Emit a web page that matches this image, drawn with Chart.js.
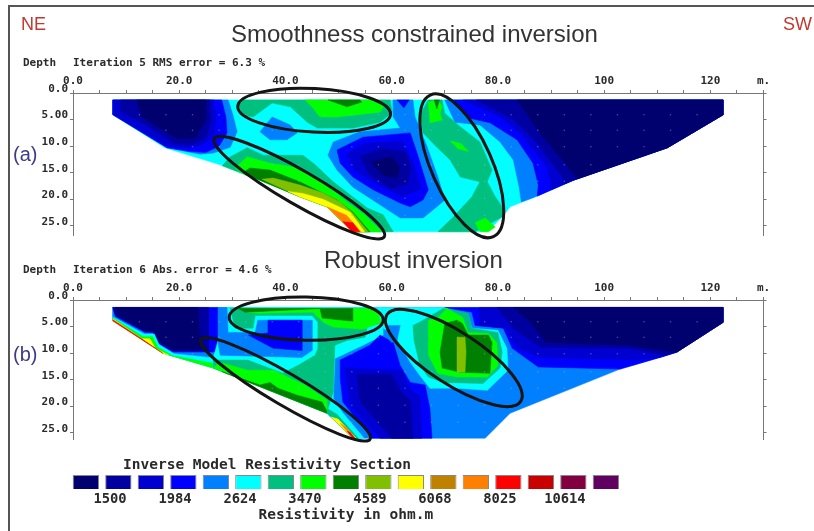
<!DOCTYPE html>
<html>
<head>
<meta charset="utf-8">
<script src="https://cdn.jsdelivr.net/npm/chart.js@4"></script>
<style>
html,body{margin:0;padding:0;background:#fff;}
#page{position:relative;width:814px;height:531px;overflow:hidden;background:#fff;}
canvas{position:absolute;left:0;filter:blur(0.45px);}
.t{position:absolute;white-space:pre;}
.big{font-family:"Liberation Sans",Arial,sans-serif;color:#333;font-size:24px;}
.dir{font-family:"Liberation Sans",Arial,sans-serif;color:#c0392f;font-size:18px;}
.pan{font-family:"Liberation Sans",Arial,sans-serif;color:#3c3c86;font-size:20px;}
.mono{font-family:"DejaVu Sans Mono",monospace;font-weight:bold;color:#2a2a2a;font-size:11px;}
.frameTop{position:absolute;left:8px;top:5px;right:0;height:2px;background:#555;}
.frameLeft{position:absolute;left:8px;top:5px;bottom:0;width:2px;background:#555;}
</style>
</head>
<body>
<div id="page">
  <canvas id="chartA" width="814" height="250" style="top:0"></canvas>
  <canvas id="chartB" width="814" height="200" style="top:250px"></canvas>
  <canvas id="chartKey" width="814" height="76" style="top:455px"></canvas>
  <div class="frameTop"></div><div class="frameLeft"></div>
  <div class="t dir" style="left:21px;top:14px">NE</div>
  <div class="t dir" style="left:783px;top:14px">SW</div>
  <div class="t big" style="left:231px;top:20px">Smoothness constrained inversion</div>
  <div class="t big" style="left:324px;top:246px">Robust inversion</div>
  <div class="t pan" style="left:13px;top:143px">(a)</div>
  <div class="t pan" style="left:13px;top:343px">(b)</div>
  <div class="t mono" style="left:23px;top:56px">Depth</div>
  <div class="t mono" style="left:73px;top:56px">Iteration 5 RMS error = 6.3 %</div>
  <div class="t mono" style="left:23px;top:263px">Depth</div>
  <div class="t mono" style="left:73px;top:263px">Iteration 6 Abs. error = 4.6 %</div>
  <div class="t mono" style="left:123px;top:456px;font-size:14.5px">Inverse Model Resistivity Section</div>
</div>
<script>
// resistivity colour key
var keyColors = ['#00006e','#0000a0','#0000d0','#0000ff','#0080ff','#00ffff','#00c080','#00ff00','#008000','#80c000','#ffff00','#c08000','#ff8000','#ff0000','#c80000','#800040','#600060'];
var keyValues = [1500,1984,2624,3470,4589,6068,8025,10614];

var xTicks = [0,20,40,60,80,100,120];
var depthTicks = ['0.0','5.00','10.0','15.0','20.0','25.0'];

// faint model block centres: columns, then rows as [depth, first m, last m]
var dotColumns = [12.5,17.5,22.5,27.5,32.5,37.5,42.5,47.5,52.5,57.5,62.5,67.5,72.5,77.5,82.5,87.5,92.5,97.5,102.5,107.5,112.5,117.5];
var dotRows = [[4.1,12.5,117.5],[7,17.5,112.5],[10.1,22.5,107.5],[13.5,32.5,97.5],[16.6,37.5,92.5],[19.8,47.5,82.5],[23,52.5,77.5]];

// section (a) contour areas, [distance m, depth m]
var a_outline = [[7.5,1.3],[7.5,4.1],[17.3,10.3],[27.7,13.5],[35.2,16.4],[42.7,19.5],[47.8,21.4],[52.7,26.1],[75.1,26.1],[78,26.1],[81,23.1],[82.3,21.4],[86.6,19.7],[94.2,16.4],[111.9,10.3],[122.4,4.1],[122.4,1.3]];
var a_left4 = [[7.5,1.3],[29.2,1.3],[30.1,4.1],[30.9,7.3],[29.6,10.2],[26.4,11.3],[23.9,11.5],[17.7,10.3],[7.5,4.1]];
var a_left3 = [[7.5,1.3],[28,1.3],[28.8,4.5],[29,7.5],[27.5,10],[25,11.2],[22,11],[17.7,10.3],[7.5,4.1]];
var a_left2 = [[7.5,1.3],[26.5,1.3],[27,5],[26.5,8],[24,10],[21,10.3],[17.7,10],[7.5,4]];
var a_left1 = [[9,1.3],[25.8,1.3],[26,5],[25,8.5],[22,9.8],[19,9.5],[13,5.5],[9,3.5]];
var a_left0 = [[12,1.3],[25,1.3],[25,5],[23,8.5],[19.5,8.5],[13,4.5]];
var a_hole4 = [[60.3,1.3],[60.3,4.5],[61.6,6.6],[54,7.3],[49,9.2],[48,11.7],[49.7,14.5],[52.7,17.7],[57.3,20.7],[61.6,23.5],[65.9,23.5],[68.5,21.4],[70,20.1],[68.7,15.8],[66.7,10.2],[64.4,4.5],[64,1.3]];
var a_tip3 = [[61,1.3],[63.3,1.3],[62.3,2.8]];
var a_hole3 = [[49.7,10.7],[54.6,8.3],[63.5,7.5],[65,12],[66.9,18.2],[65.9,20.1],[63.5,21.4],[61.6,20.7],[56.5,18.2],[52.7,15.8],[50.3,13.2]];
var a_hole2 = [[51.5,11.5],[55,9.5],[62,9],[64,13],[65.5,18],[62,19.5],[57,17],[53,14.5]];
var a_hole1 = [[54,12],[58,10.5],[62.5,11],[63.5,14],[63,17],[60,18],[56,15.5]];
var a_hole0 = [[56,13],[60,12],[61.5,14],[61,16],[58.5,15.5]];
var a_right4 = [[70,1.3],[71.9,5.5],[76.6,6],[80.4,9.2],[82.9,12.6],[84,17.7],[84.4,20.5],[86.6,19.7],[94.2,16.4],[111.9,10.3],[122.4,4.1],[122.4,1.3]];
var a_right3 = [[71,1.3],[74.4,4.7],[78.5,5.6],[83.6,8.8],[86.6,13.2],[87.6,17.3],[87.4,19.4],[94.2,16.4],[111.9,10.3],[122.4,4.1],[122.4,1.3]];
var a_right2 = [[73.5,1.3],[80.4,4.5],[84.2,7.5],[89.3,13.9],[90.2,18.1],[94.2,16.4],[111.9,10.3],[122.4,4.1],[122.4,1.3]];
var a_right1 = [[76,1.3],[83,5],[87,9],[92,15.5],[92.5,17.1],[94.2,16.4],[111.9,10.3],[122.4,4.1],[122.4,1.3]];
var a_right0 = [[83.6,1.3],[87.9,7.5],[95,16.1],[111.9,10.3],[122.4,4.1],[122.4,1.3]];
var a_patch4 = [[35.2,7.3],[37.5,4.5],[40.9,6],[42.2,7.5],[40.3,8.8],[37.1,8.8]];
var a_top6 = [[31.1,1.9],[32,1.3],[59.7,1.3],[60.1,3.6],[57.8,5.5],[52.7,6.6],[46,6.6],[44.1,5.5],[40.9,2.6],[37.5,1.9],[33.9,4.5],[31.8,4.1]];
var a_top7 = [[43.7,1.3],[45,2.6],[46.5,4.5],[49.7,4.5],[57.8,3.6],[58.6,2.4],[57.3,1.3]];
var a_top8 = [[48,1.3],[51.6,2.6],[54.4,1.7],[54,1.3]];
var a_low6 = [[28.1,13.7],[29.6,12],[32.8,10.3],[35.8,11.7],[43.3,11.7],[45.6,13.5],[49,16.7],[55.4,21.6],[58.4,22.9],[60.3,26.1],[52.7,26.1],[47.8,21.4],[42.7,19.5],[35.2,16.4]];
var a_low7 = [[30.5,14.1],[32.8,12],[37.1,13.2],[42.7,14.1],[47.1,16.7],[51.6,20.5],[54.6,22.6],[58.2,26.1],[52.7,26.1],[47.8,21.4],[42.7,19.5],[35.2,16.4],[32.4,15.4]];
var a_low8 = [[32,15],[33.3,14.1],[37.1,14.5],[42.7,16.7],[49.7,20.1],[52.7,22.4],[55.9,26.1],[52.7,26.1],[47.8,21.4],[42.7,19.5],[35.2,16.4]];
var a_low9 = [[35.6,16.2],[37.7,16],[42.7,17.3],[47.1,18.8],[50.3,20.5],[52.7,22.6],[55.6,26.1],[52.7,26.1],[47.8,21.4],[42.7,19.5]];
var a_low10 = [[40.5,18.5],[43.3,18.9],[47.1,20],[52.2,22.4],[54.9,26.1],[52.7,26.1],[47.8,21.4],[42.7,19.5]];
var a_low12 = [[47.8,21.4],[51.5,23],[54.2,26.1],[52.7,26.1]];
var a_low13 = [[50.8,24.2],[52.7,24.4],[54,26.1],[52.5,26.1]];
var a_east6 = [[66.9,1.3],[65.3,4.1],[65.9,7.5],[68.5,10.2],[71,12.6],[72.9,15.8],[76.6,16.7],[75.1,19.5],[71.6,23.3],[68.7,26.1],[75.7,26.1],[80.8,23.3],[81.2,22],[79.5,19.5],[78,16.7],[78.9,14.5],[76.6,9.2],[72.5,6],[70,3.8],[69.5,1.3]];
var a_east7a = [[66.9,1.7],[67.2,5.6],[69.5,5.1],[69.1,3.8],[69.5,2.6],[68.7,1.3]];
var a_east8 = [[68,1.3],[68.5,3],[69,1.3]];
var a_east7b = [[71,9],[73,9.5],[74.5,11],[72.5,10.5]];
var a_east7c = [[75.7,24.4],[77.6,23.5],[79.5,25.2],[78.2,26.1],[76.6,26]];

// section (b) contour areas
var b_outline = [[7.5,1.4],[7.5,3.8],[16.9,10],[26.4,12.8],[47.8,21.3],[52.7,26],[77.6,26],[82.3,21.3],[103,13],[110.5,10.8],[113.7,9.8],[122.4,4.2],[122.4,1.4]];
var b_west3 = [[7.5,1.4],[27.3,1.4],[27.3,9.8],[18.8,9.8],[16,8.1],[15.1,6.1],[13.6,6.1],[8,3.1]];
var b_west1 = [[7.5,1.4],[25.5,1.4],[25.5,9.6],[18.8,9.6],[16,8],[15.1,6],[13.6,6],[8,3]];
var b_west0 = [[8,1.4],[23.5,1.4],[24,9.4],[19,9.4],[16.3,7.8],[15.3,5.8],[13.6,5.8],[8.5,2.9]];
var b_strip5 = [[7.5,3.2],[13.4,6.4],[15.3,6.4],[16.2,8.4],[19,10.1],[27.5,11],[26.4,12.8],[16.9,10],[7.5,3.8]];
var b_strip7 = [[7.5,3.4],[13.2,6.9],[15,6.9],[16,8.9],[18.8,10.5],[26.8,12],[26.4,12.8],[16.9,10],[7.5,3.8]];
var b_strip10 = [[7.5,3.55],[13,7.3],[14.5,7.3],[15.5,9.1],[18,10.35],[16.9,10],[7.5,3.8]];
var b_strip13 = [[7.5,3.7],[13,7.35],[16.9,10],[7.5,3.95]];
var b_mid5 = [[29,1.4],[58.2,1.4],[58.4,6.6],[54.6,8.5],[49.3,11],[49,18.5],[50.7,21.1],[54.8,26],[52.7,26],[47.8,21.3],[26.4,12.8],[26.4,10.9]];
var b_ring4 = [[27.3,1.4],[29,1.4],[29.2,6.1],[34.3,6.1],[34.8,3.8],[45,3.8],[45,9.5],[43.1,10.8],[27.7,10.4],[27.3,8]];
var b_square3 = [[36.7,3.8],[43.1,3.8],[43.1,9.5],[37.7,9.1],[33,6.6],[36.7,6.2]];
var b_mid6 = [[29.6,1.6],[58.2,1.6],[58.4,4.2],[55.4,5.1],[55,7],[51.6,7.6],[49.3,8.5],[49,17.3],[48,20.4],[46.9,19.8],[43.3,17.3],[39.5,13.8],[42.7,12.1],[45.6,10.4],[46.1,9.1],[46.1,4.2],[45,2.9],[34.3,2.9],[33.9,5.3],[30.5,5.3]];
var b_band6 = [[26.4,12.8],[26.4,11.3],[32.9,11.3],[39.5,13.8],[43.3,17.3],[46.9,19.8],[48,20.4],[47.8,21.3]];
var b_band7 = [[27.3,11.9],[28.2,11.9],[32.9,13.2],[37.7,13.2],[40.9,14.7],[43.7,16],[47.8,18.8],[47.8,21.3],[26.4,12.8]];
var b_band8 = [[28.1,13.5],[35.2,16],[37.1,15.5],[38.6,16.6],[42.2,17.9],[46.9,19.2],[47.8,20.9],[47.8,21.3]];
var b_top7 = [[31.1,1.6],[32.8,2.3],[34.7,2.5],[45.2,2.3],[47.1,4.2],[49,5.1],[54.6,5.5],[58.2,4.2],[58.2,2.3],[56.3,1.6]];
var b_top8 = [[31.1,1.6],[32.4,2.3],[46.5,1.6],[46.9,3.4],[52.7,4],[52.7,1.6]];
var b_tip6 = [[48,20.5],[49.7,21.5],[53.7,26],[52.7,26],[47.8,21.3]];
var b_tip10 = [[48.6,22],[49.9,22.4],[53.3,26],[52.7,26]];
var b_tip12 = [[50.3,23.2],[51.6,24.1],[53,26],[52.7,26]];
var b_tip13 = [[51.6,24.7],[52.2,24.9],[53.1,26],[52.7,26]];
var b_hole3 = [[50.3,11.3],[55.9,8.5],[57.8,6.6],[60.3,8],[61.6,12.3],[63.5,15.5],[66.3,16],[67.2,20.4],[67.6,26],[56.3,26],[50.8,19.2],[50.3,14.7]];
var b_hole2 = [[51.2,12.8],[62,13.2],[63.5,17],[65.3,18],[65.7,26],[57.8,26],[52.2,19.8]];
var b_hole1 = [[53.5,14],[60,14],[61.5,17],[63.5,19],[64,26],[60,26],[54,19]];
var b_east3 = [[70,1.4],[75.1,2.3],[75.7,4.8],[81,5.3],[82.7,9.1],[87.6,12.6],[103,13],[110.5,10.8],[113.7,9.8],[122.4,4.2],[122.4,1.4]];
var b_east2 = [[76.6,1.4],[76.6,4.8],[81.4,5.3],[83.6,9.1],[87.9,10.8],[105.5,11.3],[110.5,10.8],[113.7,9.8],[122.4,4.2],[122.4,1.4]];
var b_east1 = [[79.8,1.4],[82.9,5.3],[87.9,8.9],[104.9,9.1],[111.5,10.4],[113.7,9.8],[122.4,4.2],[122.4,1.4]];
var b_east0 = [[82.9,1.4],[86,4],[89,8],[104,8.5],[113.7,9.8],[122.4,4.2],[122.4,1.4]];
var b_blob5 = [[57.3,1.4],[69.7,1.4],[74.4,2.9],[75.1,5.3],[80,5.7],[81.7,9.1],[81.9,13.2],[78,17],[72.3,16.6],[67.2,16.6],[65.3,14.2],[63.5,11.7],[61.6,8.5],[60.6,6.6],[58.4,5.3]];
var b_blobPatch = [[59.3,4.8],[61.6,4.8],[61,7.6],[60,8],[58.8,6.6]];
var b_blob6 = [[64,4.8],[65.9,3.8],[69.7,1.6],[74.4,2.5],[75.1,5.3],[80,6.1],[80.8,9.8],[80.4,12.8],[77.2,15.7],[69.7,15.5],[66.9,14.5],[65.3,12.3],[64.2,7.6]];
var b_blob7 = [[66.9,3.8],[68.7,3.3],[70.4,1.6],[73.4,3.3],[74.4,6.1],[78.2,6.3],[79.8,8],[80,12.3],[78,14.5],[72.3,14.5],[68.7,13.8],[66.9,10.4]];
var b_blob8 = [[70,4.4],[72.3,3.8],[73.3,4.4],[74.4,6.6],[78.2,6.6],[78.9,8],[78.5,13.8],[72.9,13.6],[69.5,12.8],[69.1,9.8]];
var b_blob9 = [[72.3,7],[73.8,7],[74,9.8],[73.8,13.6],[72.3,13.6]];

// hand drawn ovals: centre m, centre depth, long and short half axis in m, tilt in degrees
var a_ovals = [[45.4,3.26,14.4,4.1,3],[42.6,17.8,18.5,3.2,30],[73.2,13.7,14.6,5.7,66]];
var b_ovals = [[43.9,3.5,14.5,4.08,1],[40,16.8,18.5,3,30.5],[71.7,10.9,15,4.9,33]];

// painted in this order, each with its key colour index
var layersA = [
  [a_outline,5],[a_left4,4],[a_left3,3],[a_left2,2],[a_left1,1],[a_left0,0],
  [a_hole4,4],[a_tip3,3],[a_hole3,3],[a_hole2,2],[a_hole1,1],[a_hole0,0],
  [a_right4,4],[a_right3,3],[a_right2,2],[a_right1,1],[a_right0,0],
  [a_patch4,4],[a_top6,6],[a_top7,7],[a_top8,8],
  [a_low6,6],[a_low7,7],[a_low8,8],[a_low9,9],[a_low10,10],[a_low12,12],[a_low13,13],
  [a_east6,6],[a_east7a,7],[a_east8,8],[a_east7b,7],[a_east7c,7]
];
var layersB = [
  [b_outline,4],[b_west3,3],[b_west1,1],[b_west0,0],
  [b_strip5,5],[b_strip7,7],[b_strip10,10],[b_strip13,13],
  [b_mid5,5],[b_ring4,4],[b_square3,3],[b_band6,6],[b_mid6,6],[b_band7,7],[b_band8,8],[b_top7,7],[b_top8,8],
  [b_tip6,6],[b_tip10,10],[b_tip12,12],[b_tip13,13],
  [b_hole3,3],[b_hole2,2],[b_hole1,1],
  [b_east3,3],[b_east2,2],[b_east1,1],[b_east0,0],
  [b_blob5,5],[b_blobPatch,4],[b_blob6,6],[b_blob7,7],[b_blob8,8],[b_blob9,9]
];

// fills the closed outline of a dataset from the points the scales placed
var areaFill = {
  id: 'areaFill',
  beforeDatasetDraw: function(chart, args){
    var ds = chart.data.datasets[args.index];
    if(!ds.area) return;
    var pts = chart.getDatasetMeta(args.index).data;
    var ctx = chart.ctx;
    ctx.save();
    ctx.beginPath();
    pts.forEach(function(p,i){
      if(i==0) ctx.moveTo(p.x,p.y); else ctx.lineTo(p.x,p.y);
    });
    ctx.closePath();
    ctx.fillStyle = ds.borderColor;
    ctx.fill();
    ctx.restore();
  }
};

// ovals go on top, placed through the same scales
var ovalDraw = {
  id: 'ovalDraw',
  afterDatasetsDraw: function(chart, args, opts){
    var ctx = chart.ctx, sx = chart.scales.x, sy = chart.scales.y;
    opts.list.forEach(function(o){
      var cx = sx.getPixelForValue(o[0]);
      var cy = sy.getPixelForValue(o[1]);
      var rx = sx.getPixelForValue(o[0]+o[2]) - cx;
      var ry = sx.getPixelForValue(o[0]+o[3]) - cx;
      ctx.save();
      ctx.beginPath();
      ctx.ellipse(cx, cy, rx, ry, o[4]*Math.PI/180, 0, Math.PI*2);
      ctx.strokeStyle = '#141414';
      ctx.lineWidth = 3;
      ctx.stroke();
      ctx.restore();
    });
  }
};

function toXY(list){
  var out = list.map(function(p){ return {x:p[0], y:p[1]}; });
  out.push({x:list[0][0], y:list[0][1]});
  return out;
}

function dotPoints(){
  var out = [];
  dotRows.forEach(function(r){
    dotColumns.forEach(function(c){
      if(c>=r[1] && c<=r[2]) out.push({x:c, y:r[0]});
    });
  });
  return out;
}

var monoFont = {family:'"DejaVu Sans Mono", monospace', size:11, weight:'bold'};

function makeSection(id, layers, ovals, xHeight, padBottom, depthMax){
  var datasets = [];
  layers.forEach(function(l,i){
    datasets.push({data:toXY(l[0]), area:true, showLine:true, borderColor:keyColors[l[1]], borderWidth:0.5,
      pointRadius:0, order:1000-i});
  });
  datasets.push({data:dotPoints(), showLine:false, pointRadius:0.8, pointBorderWidth:0,
    pointBackgroundColor:'rgba(170,170,235,0.45)', order:0});
  var ctx = document.getElementById(id).getContext('2d');
  return new Chart(ctx, {
    type:'scatter',
    data:{datasets:datasets},
    plugins:[areaFill, ovalDraw],
    options:{
      responsive:false,
      animation:false,
      events:[],
      layout:{padding:{bottom:padBottom}},
      plugins:{legend:{display:false}, tooltip:{enabled:false}, ovalDraw:{list:ovals}},
      scales:{
        x:{
          type:'linear', position:'top', min:0, max:130,
          afterFit:function(s){ s.height = xHeight; },
          border:{color:'#777'},
          grid:{drawOnChartArea:false, color:'#777', tickLength:3},
          ticks:{stepSize:5, autoSkip:false, maxRotation:0, padding:2, color:'#2a2a2a', font:monoFont,
            callback:function(v){
              if(v==130) return 'm.';
              if(xTicks.indexOf(v)<0) return '';
              return v>=100 ? String(v) : v.toFixed(1);
            }}
        },
        y:{
          type:'linear', position:'left', reverse:true, min:0, max:depthMax,
          afterFit:function(s){ s.width = 73; },
          border:{color:'#777'},
          grid:{drawOnChartArea:false, color:'#777', tickLength:3},
          ticks:{stepSize:5, includeBounds:false, padding:2, labelOffset:-4, color:'#2a2a2a', font:monoFont,
            callback:function(v){ return depthTicks[v/5]; }}
        },
        y2:{
          type:'linear', position:'right', reverse:true, min:0, max:depthMax,
          afterFit:function(s){ s.width = 50.5; },
          border:{color:'#777'},
          grid:{drawOnChartArea:false, color:'#777', tickLength:3},
          ticks:{stepSize:5, includeBounds:false, callback:function(){ return ''; }}
        }
      }
    }
  });
}

makeSection('chartA', layersA, a_ovals, 93, 15, 26.7);
makeSection('chartB', layersB, b_ovals, 50, 10, 26.3);

// colour key: one box per class, class limits on a log axis under it
new Chart(document.getElementById('chartKey').getContext('2d'), {
  type:'bar',
  data:{
    labels:keyColors.map(function(c,i){ return i; }),
    datasets:[{data:keyColors.map(function(){ return 1; }), backgroundColor:keyColors, borderColor:'#888', borderWidth:1,
      barPercentage:0.81, categoryPercentage:1}]
  },
  options:{
    responsive:false,
    animation:false,
    events:[],
    layout:{padding:{left:69.6, right:191.9, top:20, bottom:6.6}},
    plugins:{legend:{display:false}, tooltip:{enabled:false}},
    scales:{
      x:{display:false},
      y:{display:false, min:0, max:1},
      x2:{
        type:'logarithmic', position:'bottom', axis:'x', min:1260.7, max:13575,
        afterFit:function(s){ s.height = 35.4; },
        afterBuildTicks:function(s){ s.ticks = keyValues.map(function(v){ return {value:v}; }); },
        border:{display:false},
        grid:{display:false, drawTicks:false, tickLength:0},
        ticks:{autoSkip:false, maxRotation:0, padding:2, color:'#2a2a2a',
          font:{family:'"DejaVu Sans Mono", monospace', size:13.8, weight:'bold'},
          callback:function(v){ return String(v); }},
        title:{display:true, text:'Resistivity in ohm.m', color:'#2a2a2a', padding:{top:0,bottom:0},
          font:{family:'"DejaVu Sans Mono", monospace', size:14.5, weight:'bold'}}
      }
    }
  }
});
</script>
</body>
</html>
